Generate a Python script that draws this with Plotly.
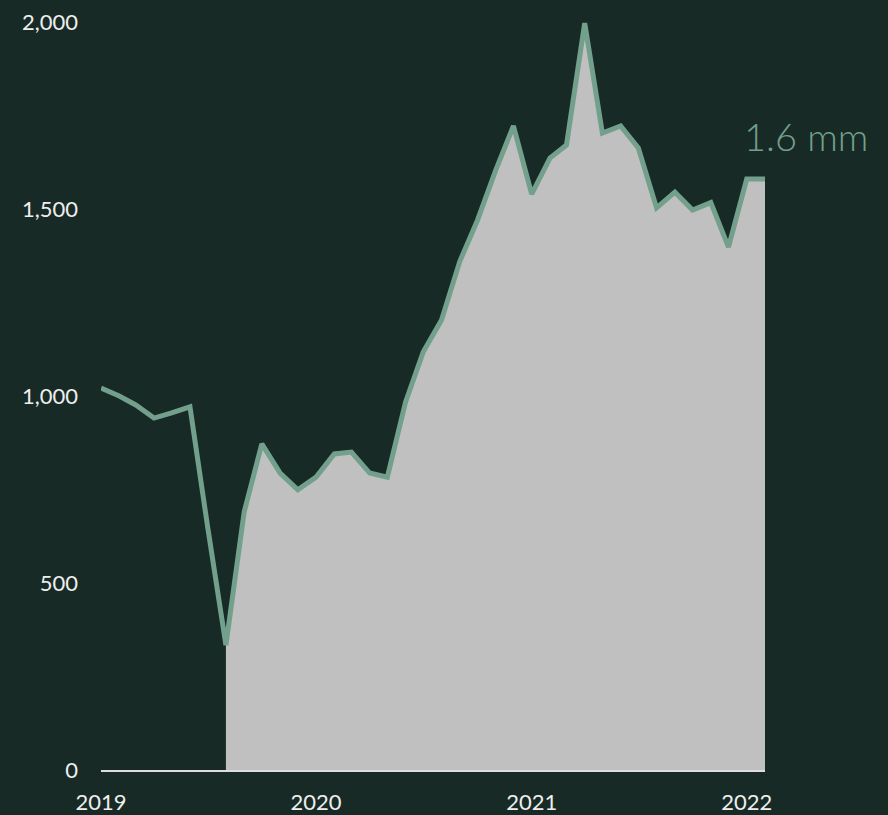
import plotly.graph_objects as go
import pandas as pd

months = pd.date_range("2019-01-01", "2022-02-01", freq="MS").strftime("%Y-%m-%d").tolist()
values = [1021, 1000, 976, 941, 955, 971, 650, 334,
          690, 872, 794, 749,
          783, 845, 850, 794, 783, 984, 1118, 1203, 1360, 1470, 1604, 1722,
          1540, 1636, 1671, 1997, 1703, 1722, 1663, 1503, 1545, 1497, 1517, 1398,
          1580, 1580]
fill_start = 7  # fill begins at the trough (Aug 2019)
label_text = "1.6 mm"
y_ticks = [0, 500, 1000, 1500, 2000]
x_ticks = ["2019-01-01", "2020-01-01", "2021-01-01", "2022-01-01"]
x_ticklabels = ["2019", "2020", "2021", "2022"]

BG = "#182a25"
LINE = "#72a08c"
FILL = "#c0c0c0"
TXT = "#eeeeee"
FONT = "Lato, Open Sans, sans-serif"

fig = go.Figure()
fig.add_trace(go.Scatter(
    x=months[fill_start:], y=values[fill_start:], mode="lines",
    line=dict(width=0, color=FILL), fill="tozeroy", fillcolor=FILL,
    hoverinfo="skip", showlegend=False))
fig.add_trace(go.Scatter(
    x=months, y=values, mode="lines",
    line=dict(width=5, color=LINE), cliponaxis=False, showlegend=False))

fig.add_annotation(x="2022-01-01", y=1695, text=label_text, showarrow=False,
                   xanchor="left", yanchor="middle", xshift=-5,
                   font=dict(family=FONT, size=38, color=LINE, weight=300))

fig.update_layout(
    width=888, height=815,
    margin=dict(l=101, r=123, t=22, b=45),
    paper_bgcolor=BG, plot_bgcolor=BG,
    font=dict(family=FONT, size=22, color=TXT),
    xaxis=dict(range=["2019-01-01", "2022-02-01"], tickvals=x_ticks, ticktext=x_ticklabels,
               showgrid=False, zeroline=False, showline=True, linecolor="#dddddd", linewidth=1.5,
               ticks="", ticklabelstandoff=12, automargin=False,
               tickfont=dict(size=22, color=TXT)),
    yaxis=dict(range=[0, 2000], tickvals=y_ticks, tickformat=",", showgrid=False,
               zeroline=False, showline=False, ticks="", ticklabelstandoff=22, automargin=False,
               tickfont=dict(size=22, color=TXT)),
)

fig.write_html("out.html", config={"displayModeBar": False},
               post_script="document.body.style.margin='0';document.body.style.overflow='hidden';")
